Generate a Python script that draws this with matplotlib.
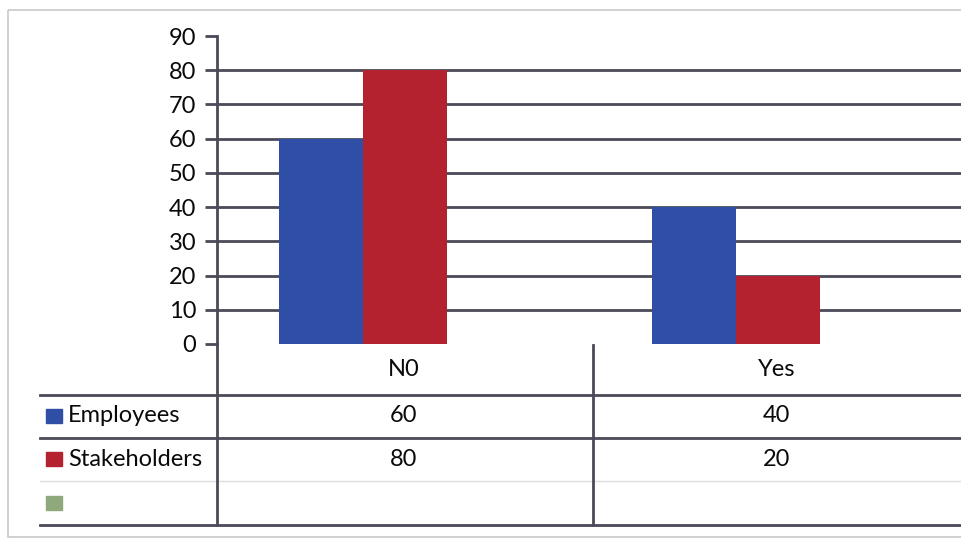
import matplotlib
matplotlib.use('Agg')
import matplotlib.pyplot as plt
import numpy as np
from matplotlib.patches import Rectangle

# Datos del grafico
categorias = ['N0', 'Yes']
series = ['Employees', 'Stakeholders', '']
empleados = [60, 40]
interesados = [80, 20]
colores = ['#2f4fa6', '#b3222e', '#8fa87c']

plt.rcParams['font.family'] = ['Lato', 'DejaVu Sans']

W, H = 962, 539
fig = plt.figure(figsize=(W / 100, H / 100), dpi=100)

# Capa de fondo en pixeles para el marco y la tabla
bg = fig.add_axes([0, 0, 1, 1])
bg.set_xlim(0, W)
bg.set_ylim(H, 0)
bg.axis('off')

linea = '#4a4a58'
texto = '#0a0a0a'
bg.add_patch(Rectangle((8, 10), W, 527, fill=False, edgecolor='#c8c8c8', lw=1.2))

# Area del grafico
x0, x1, ytop, ybot = 217, 963, 36, 344
ax = fig.add_axes([x0 / W, 1 - ybot / H, (x1 - x0) / W, (ybot - ytop) / H])
ax.patch.set_alpha(0)
x = np.arange(len(categorias))
ancho = 0.225
desplaz = -0.108  # las barras aparecen corridas a la izquierda del centro
ax.bar(x + desplaz - ancho / 2, empleados, ancho, color=colores[0], zorder=3)
ax.bar(x + desplaz + ancho / 2, interesados, ancho, color=colores[1], zorder=3)
ax.set_xlim(-0.5, len(categorias) - 0.5)
ax.set_ylim(0, 90)
ax.set_yticks(range(0, 100, 10))
for v in range(10, 90, 10):
    ax.axhline(v, color=linea, lw=2, zorder=1)
for s in ['top', 'right', 'bottom']:
    ax.spines[s].set_visible(False)
ax.spines['left'].set_color(linea)
ax.spines['left'].set_linewidth(2)
ax.tick_params(axis='y', direction='out', length=9, width=2, color=linea,
               labelsize=17, labelcolor=texto, pad=6)
ax.set_xticks([])

# Tabla de datos
filas_y = [395, 438, 525]
for yy in filas_y:
    bg.plot([40, W], [yy, yy], color=linea, lw=2)
bg.plot([40, W], [481, 481], color='#dddddd', lw=1)
bg.plot([x0, x0], [ybot, 525], color=linea, lw=2)
bg.plot([593, 593], [345, 525], color=linea, lw=2)

col_w = (x1 - x0) / len(categorias)
centros = [x0 + col_w * (i + 0.5) for i in range(len(categorias))]
for c, cat in zip(centros, categorias):
    bg.text(c, 369, cat, ha='center', va='center', fontsize=17, color=texto)
for c, a, b in zip(centros, empleados, interesados):
    bg.text(c, 416, str(a), ha='center', va='center', fontsize=17, color=texto)
    bg.text(c, 459, str(b), ha='center', va='center', fontsize=17, color=texto)

for i, (nombre, yy) in enumerate(zip(series, [416, 459, 503])):
    bg.add_patch(Rectangle((46, yy - 7), 16, 14, color=colores[i]))
    bg.text(68, yy, nombre, ha='left', va='center', fontsize=17, color=texto)

fig.savefig('out.png', dpi=100)
